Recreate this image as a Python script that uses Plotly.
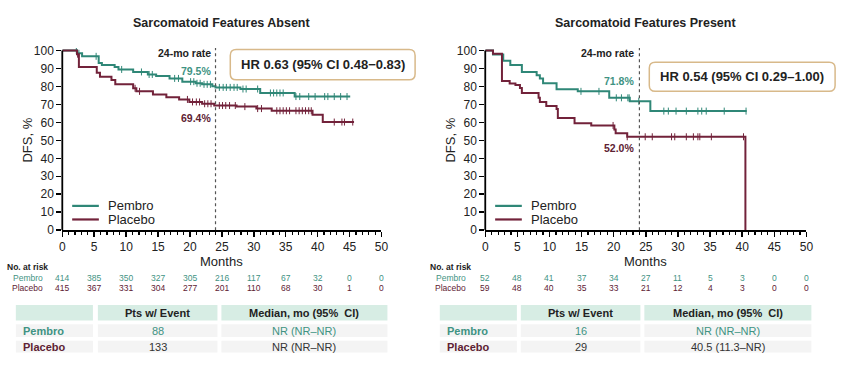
import plotly.graph_objects as go

# ---------------- data ----------------
month_ticks = list(range(0, 51, 5))

# Sarcomatoid features absent
absent_pembro_t = [0, 2.3, 3.1, 5.7, 6.2, 8.2, 8.8, 11.1, 13.4, 14.7, 16.8, 18.8, 20.9, 21.9, 23.5, 24.0, 27.9, 31.0, 36.4, 45.1]
absent_pembro_s = [100, 98.5, 96.8, 93.1, 92.0, 90.8, 89.5, 88.1, 86.7, 85.8, 84.5, 82.7, 81.8, 81.2, 80.2, 79.5, 78.6, 76.4, 74.4, 74.4]
absent_placebo_t = [0, 2.3, 2.6, 5.4, 5.9, 7.7, 8.3, 11.1, 11.6, 14.2, 16.3, 18.3, 19.9, 21.9, 23.8, 27.3, 30.4, 32.8, 39.2, 40.8, 45.7]
absent_placebo_s = [100, 98.0, 90.8, 87.7, 85.4, 83.6, 81.2, 79.0, 77.3, 75.5, 74.0, 72.8, 71.4, 70.4, 69.4, 68.8, 67.7, 66.5, 64.3, 60.2, 60.2]
absent_pembro_cens = [2.2, 2.6, 5.3, 9.3, 12.4, 13.6, 14.1, 17.6, 18.2, 20.1, 20.6, 21.1, 21.6, 22.2, 22.7, 23.2, 24.6, 25.2,
                      25.7, 26.3, 26.9, 27.4, 28.3, 28.8, 30.6, 32.6, 33.1, 33.6, 34.1, 34.6, 36.6, 37.2, 38.6, 39.6, 41.1,
                      41.6, 42.6, 43.6, 44.6]
absent_placebo_cens = [2.4, 11.4, 12.1, 19.6, 20.4, 21.0, 21.5, 22.3, 22.8, 23.3, 24.6, 25.1, 25.6, 26.2, 27.1, 28.6, 30.6,
                       31.2, 33.6, 34.1, 34.6, 35.1, 35.6, 36.6, 37.1, 37.6, 38.1, 38.6, 39.0, 42.6, 43.8, 44.2, 45.5]

# Sarcomatoid features present
present_pembro_t = [0, 1.2, 2.8, 3.9, 5.7, 8.0, 8.5, 9.0, 11.1, 14.4, 19.3, 22.5, 25.7, 40.7]
present_pembro_s = [100, 97.8, 94.4, 92.0, 88.1, 86.3, 84.5, 81.8, 78.5, 77.3, 73.7, 71.8, 66.3, 66.3]
present_placebo_t = [0, 1.2, 2.6, 3.8, 4.7, 5.4, 5.7, 8.3, 8.5, 9.5, 11.1, 11.3, 13.9, 16.5, 20.1, 20.3, 22.1, 40.5, 40.5]
present_placebo_s = [100, 98.3, 83.1, 81.7, 80.9, 79.1, 76.4, 73.7, 71.4, 69.2, 67.4, 62.5, 59.6, 58.3, 56.0, 53.9, 52.0, 52.0, 0]
present_pembro_cens = [14.9, 17.7, 20.4, 21.2, 22.2, 22.4, 23.9, 27.8, 28.5, 29.7, 31.3, 33.1, 33.7, 34.4, 37.2, 40.6]
present_placebo_cens = [19.9, 22.1, 24.9, 26.0, 29.0, 29.5, 31.3, 32.4, 33.1, 33.4, 35.2, 40.2]

arms = ["Pembro", "Placebo"]
panel_titles = ["Sarcomatoid Features Absent", "Sarcomatoid Features Present"]
hr_texts = ["HR 0.63 (95% CI 0.48\u22120.83)", "HR 0.54 (95% CI 0.29\u20131.00)"]
rate_24mo_absent = [79.5, 69.4]
rate_24mo_present = [71.8, 52.0]

risk_months = list(range(0, 51, 5))
absent_pembro_risk = [414, 385, 350, 327, 305, 216, 117, 67, 32, 0, 0]
absent_placebo_risk = [415, 367, 331, 304, 277, 201, 110, 68, 30, 1, 0]
present_pembro_risk = [52, 48, 41, 37, 34, 27, 11, 5, 3, 0, 0]
present_placebo_risk = [59, 48, 40, 35, 33, 21, 12, 4, 3, 0, 0]

table_headers = ["Pts w/ Event", "Median, mo (95%&nbsp; CI)"]
absent_events = [88, 133]
absent_median = ["NR (NR\u2013NR)", "NR (NR\u2013NR)"]
present_events = [16, 29]
present_median = ["NR (NR\u2013NR)", "40.5 (11.3\u2013NR)"]

# ---------------- styling ----------------
W, H = 850, 374
FONT = "Liberation Sans, Arial, sans-serif"
TEAL = "#2f8777"
MAROON = "#72223a"
TEAL_TXT = "#3f9383"
MAROON_TXT = "#5e2233"
DARK = "#222222"


def px(x):
    return x / W


def py(y):
    return 1 - y / H


def step_at(ts, ss, t):
    v = ss[0]
    for ti, si in zip(ts, ss):
        if ti <= t:
            v = si
        else:
            break
    return v


fig = go.Figure()

panels = [
    dict(xa="x", ya="y", pt=absent_pembro_t, ps=absent_pembro_s, lt=absent_placebo_t,
         ls=absent_placebo_s, pc=absent_pembro_cens, lc=absent_placebo_cens),
    dict(xa="x2", ya="y2", pt=present_pembro_t, ps=present_pembro_s, lt=present_placebo_t,
         ls=present_placebo_s, pc=present_pembro_cens, lc=present_placebo_cens),
]

for p in panels:
    for name, t, s, c, col in [("Pembro", p["pt"], p["ps"], p["pc"], TEAL),
                               ("Placebo", p["lt"], p["ls"], p["lc"], MAROON)]:
        fig.add_trace(go.Scatter(x=t, y=s, mode="lines", line=dict(color=col, width=2, shape="hv"),
                                 name=name, xaxis=p["xa"], yaxis=p["ya"], showlegend=False, hoverinfo="skip"))
        fig.add_trace(go.Scatter(x=c, y=[step_at(t, s, ci) for ci in c], mode="markers",
                                 marker=dict(symbol="line-ns", size=5, line=dict(color=col, width=1)),
                                 showlegend=False, xaxis=p["xa"], yaxis=p["ya"], hoverinfo="skip"))

x_left = [(60, 383), (488, 813)]
Y0, Y100 = 233, 48
YTOP = 101.5
y_top_px = Y0 - (Y0 - Y100) * YTOP / 100

axis_common = dict(showgrid=False, zeroline=False, ticks="outside", tickwidth=1.5, tickcolor="black",
                   tickfont=dict(family=FONT, size=12, color=DARK))

for i, (xa, ya) in enumerate([("xaxis", "yaxis"), ("xaxis2", "yaxis2")]):
    x0, x1 = x_left[i]
    fig.layout[xa] = dict(domain=[px(x0), px(x1)], range=[0, 50], tickvals=month_ticks, ticklen=5,
                          showline=True, linewidth=1.8, linecolor="black",
                          anchor="y" if i == 0 else "y2",
                          minor=dict(dtick=1, ticklen=3, ticks="outside", tickwidth=1.2, tickcolor="black"),
                          **axis_common)
    fig.layout[ya] = dict(domain=[py(Y0), py(y_top_px)], range=[0, YTOP], tickvals=list(range(0, 101, 10)),
                          ticklen=5, showline=False, anchor="x" if i == 0 else "x2", **axis_common)

shapes = []
annots = []


def note(text, x, y, xref="paper", yref="paper", xanchor="center", yanchor="middle", size=11, color=DARK, **kw):
    annots.append(dict(text=text, x=x, y=y, xref=xref, yref=yref, xanchor=xanchor, yanchor=yanchor,
                       showarrow=False, font=dict(family=FONT, size=size, color=color), **kw))


risk_data = [(absent_pembro_risk, absent_placebo_risk), (present_pembro_risk, present_placebo_risk)]
rates = [rate_24mo_absent, rate_24mo_present]
rate_shift = [(16, -12), (20, -11)]
events = [absent_events, present_events]
medians = [absent_median, present_median]
hr_boxes = [(230, 47, 417, 78), (654, 60, 842, 90)]
tables = [dict(cols=[(13, 91), (96, 217), (221, 389)], lab=18),
          dict(cols=[(442, 520), (524, 645), (649, 818)], lab=447)]
row_label_right = [42, 471]
row_y = [(310, 326), (330, 343), (347, 359)]
legend_x = [70, 498]
legend_y = [208, 222]


def rrect(x0, y0, x1, y1, r):
    X = lambda v: f"{px(v):.5f}"
    Yv = lambda v: f"{py(v):.5f}"
    return (f"M {X(x0 + r)} {Yv(y0)} L {X(x1 - r)} {Yv(y0)} Q {X(x1)} {Yv(y0)} {X(x1)} {Yv(y0 + r)} "
            f"L {X(x1)} {Yv(y1 - r)} Q {X(x1)} {Yv(y1)} {X(x1 - r)} {Yv(y1)} "
            f"L {X(x0 + r)} {Yv(y1)} Q {X(x0)} {Yv(y1)} {X(x0)} {Yv(y1 - r)} "
            f"L {X(x0)} {Yv(y0 + r)} Q {X(x0)} {Yv(y0)} {X(x0 + r)} {Yv(y0)} Z")


for i in range(2):
    xr = "x" if i == 0 else "x2"
    yr = "y" if i == 0 else "y2"
    xd = xr + " domain"
    x0, x1 = x_left[i]
    # y axis line 0..100
    shapes.append(dict(type="line", xref="paper", yref=yr, x0=px(x0), x1=px(x0), y0=0, y1=100,
                       line=dict(color="black", width=1.8)))
    # 24-month dotted line
    shapes.append(dict(type="line", xref=xr, yref=yr, x0=24, x1=24, y0=0, y1=YTOP,
                       line=dict(color="#555555", width=1.2, dash="dot")))
    # title & axis titles
    note(f"<b>{panel_titles[i]}</b>", 0.5, py(20), xref=xd, size=12.5)
    note("Months", 0.5, py(265), xref=xd, size=13)
    note("DFS, %", px(x0 - 35), py(140), size=13, textangle=-90)
    # legend (drawn as key lines + labels)
    for k, (arm, col) in enumerate(zip(arms, [TEAL, MAROON])):
        lx = legend_x[i]
        shapes.append(dict(type="line", xref="paper", yref="paper", x0=px(lx), x1=px(lx + 27),
                           y0=py(legend_y[k]), y1=py(legend_y[k]), line=dict(color=col, width=2.2)))
        note(arm, px(lx + 34), py(legend_y[k]), xanchor="left", size=13)
    # 24-mo labels
    note("<b>24-mo rate</b>", 24, py(50), xref=xr, xanchor="right", size=10.5, xshift=-3)
    for k, (col, sh) in enumerate(zip([TEAL_TXT, MAROON_TXT], rate_shift[i])):
        note(f"<b>{rates[i][k]:.1f}%</b>", 24, rates[i][k], xref=xr, yref=yr, xanchor="right", size=10.5,
             color=col, xshift=-3, yshift=sh)
    # HR box
    bx0, by0, bx1, by1 = hr_boxes[i]
    shapes.append(dict(type="path", xref="paper", yref="paper", path=rrect(bx0, by0, bx1, by1, 6),
                       line=dict(color="#d8b98a", width=1.5), fillcolor="white"))
    note(f"<b>{hr_texts[i]}</b>", px((bx0 + bx1) / 2), py((by0 + by1) / 2), size=13)
    # number at risk
    note("<b>No. at risk</b>", px(x0 - 58), py(271), xanchor="left", size=8.5)
    for k, (arm, col, vals, yy) in enumerate(zip(arms, [TEAL_TXT, MAROON_TXT], risk_data[i], [282, 293])):
        note(arm, px(row_label_right[i]), py(yy), xanchor="right", size=8.5, color=col)
        for m, v in zip(risk_months, vals):
            note(str(v), m, py(yy), xref=xr, size=8.5, color=col)
    # table
    tb = tables[i]
    for r, (ry0, ry1) in enumerate(row_y):
        for c, (cx0, cx1) in enumerate(tb["cols"]):
            shapes.append(dict(type="rect", xref="paper", yref="paper", x0=px(cx0), x1=px(cx1),
                               y0=py(ry1), y1=py(ry0), line=dict(width=0),
                               fillcolor="#d7ede4" if r == 0 else "#f4f4f4", layer="below"))
    for c in range(2):
        cx0, cx1 = tb["cols"][c + 1]
        note(f"<b>{table_headers[c]}</b>", px((cx0 + cx1) / 2), py(sum(row_y[0]) / 2), size=11)
    for k, arm in enumerate(arms):
        ry = sum(row_y[k + 1]) / 2
        lab_col = TEAL_TXT if k == 0 else MAROON_TXT
        val_col = TEAL_TXT if k == 0 else "#333333"
        note(f"<b>{arm}</b>", px(tb["lab"]), py(ry), xanchor="left", size=11, color=lab_col)
        for c, val in enumerate([str(events[i][k]), medians[i][k]]):
            cx0, cx1 = tb["cols"][c + 1]
            note(val, px((cx0 + cx1) / 2), py(ry), size=11, color=val_col)

fig.update_layout(
    width=W, height=H, autosize=False,
    margin=dict(l=0, r=0, t=0, b=0),
    paper_bgcolor="white", plot_bgcolor="white",
    showlegend=False,
    shapes=shapes, annotations=annots,
    font=dict(family=FONT, color=DARK),
)

fig.write_html("out.html", config={"displayModeBar": False, "staticPlot": True},
               post_script="document.body.style.margin='0';document.body.style.overflow='hidden';")
